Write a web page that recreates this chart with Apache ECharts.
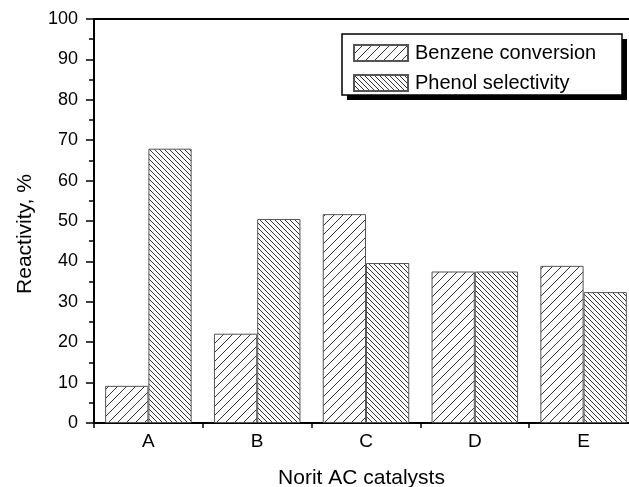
<!DOCTYPE html>
<html>
<head>
<meta charset="utf-8">
<script src="https://cdn.jsdelivr.net/npm/echarts@6/dist/echarts.min.js"></script>
<style>
html,body{margin:0;padding:0;background:#fff;}
#chart{width:629px;height:487px;}
</style>
</head>
<body>
<div id="chart"></div>
<script>
const categories = ['A', 'B', 'C', 'D', 'E'];
const benzeneConversion = [9.2, 22.1, 51.7, 37.5, 38.9];
const phenolSelectivity = [67.9, 50.5, 39.6, 37.5, 32.4];
const seriesNames = ['Benzene conversion', 'Phenol selectivity'];
const xAxisTitle = 'Norit AC catalysts';
const yAxisTitle = 'Reactivity, %';

function makeHatch(size, forward) {
  const c = document.createElement('canvas');
  c.width = size; c.height = size;
  const g = c.getContext('2d');
  g.fillStyle = '#fff';
  g.fillRect(0, 0, size, size);
  g.strokeStyle = '#333';
  g.lineWidth = 1;
  g.beginPath();
  if (forward) {
    g.moveTo(-1, size + 1); g.lineTo(size + 1, -1);
    g.moveTo(-1, 1); g.lineTo(1, -1);
    g.moveTo(size - 1, size + 1); g.lineTo(size + 1, size - 1);
  } else {
    g.moveTo(-1, -1); g.lineTo(size + 1, size + 1);
    g.moveTo(size - 1, -1); g.lineTo(size + 1, 1);
    g.moveTo(-1, size - 1); g.lineTo(1, size + 1);
  }
  g.stroke();
  return { image: c, repeat: 'repeat' };
}

const font = "'Liberation Sans', Arial, Helvetica, sans-serif";
const chart = echarts.init(document.getElementById('chart'), null, { renderer: 'canvas' });

chart.setOption({
  animation: false,
  backgroundColor: '#fff',
  textStyle: { fontFamily: font, color: '#000' },
  grid: { left: 94, top: 19, width: 544, height: 404, containLabel: false, outerBoundsMode: 'none' },
  graphic: [
    { type: 'rect', z: 0, shape: { x: 347, y: 39, width: 280, height: 61 }, style: { fill: '#000' } },
    { type: 'rect', z: 1, shape: { x: 342, y: 34, width: 280, height: 61 }, style: { fill: '#fff', stroke: '#000', lineWidth: 1.5 } }
  ],
  legend: {
    orient: 'vertical',
    left: 348,
    top: 38,
    padding: 5,
    itemWidth: 54,
    itemHeight: 16,
    itemGap: 10,
    icon: 'rect',
    z: 10,
    textStyle: { fontFamily: font, fontSize: 20, color: '#000', padding: [0, 0, 0, 2] },
    data: seriesNames
  },
  xAxis: [
    {
      type: 'category',
      data: categories,
      position: 'bottom',
      axisLine: { lineStyle: { color: '#000', width: 2 } },
      axisTick: { show: true, length: 5, lineStyle: { color: '#000', width: 1.5 } },
      axisLabel: { fontSize: 19, color: '#000', margin: 9, fontFamily: font },
      name: xAxisTitle,
      nameLocation: 'middle',
      nameGap: 45,
      nameTextStyle: { fontSize: 21, color: '#000', fontFamily: font, padding: [0, 9, 0, 0] }
    },
    {
      type: 'category',
      data: categories,
      position: 'top',
      axisLine: { show: true, lineStyle: { color: '#000', width: 2 } },
      axisTick: { show: false },
      axisLabel: { show: false }
    }
  ],
  yAxis: {
    type: 'value',
    min: 0,
    max: 100,
    interval: 10,
    axisLine: { show: true, lineStyle: { color: '#000', width: 2 } },
    axisTick: { show: true, length: 8, lineStyle: { color: '#000', width: 1.5 } },
    minorTick: { show: true, splitNumber: 2, length: 5, lineStyle: { color: '#000', width: 1.5 } },
    splitLine: { show: false },
    axisLabel: { fontSize: 18, color: '#000', margin: 16, fontFamily: font },
    name: yAxisTitle,
    nameLocation: 'middle',
    nameGap: 58,
    nameTextStyle: { fontSize: 21, color: '#000', fontFamily: font, padding: [0, 26, 0, 0] }
  },
  series: [
    {
      name: seriesNames[0],
      type: 'bar',
      data: benzeneConversion,
      barGap: '0%',
      barCategoryGap: '20.5%',
      itemStyle: { color: makeHatch(9, true), borderColor: '#555', borderWidth: 1 }
    },
    {
      name: seriesNames[1],
      type: 'bar',
      data: phenolSelectivity,
      barGap: '0%',
      barCategoryGap: '20.5%',
      itemStyle: { color: makeHatch(5, false), borderColor: '#555', borderWidth: 1 }
    }
  ]
});
</script>
</body>
</html>
